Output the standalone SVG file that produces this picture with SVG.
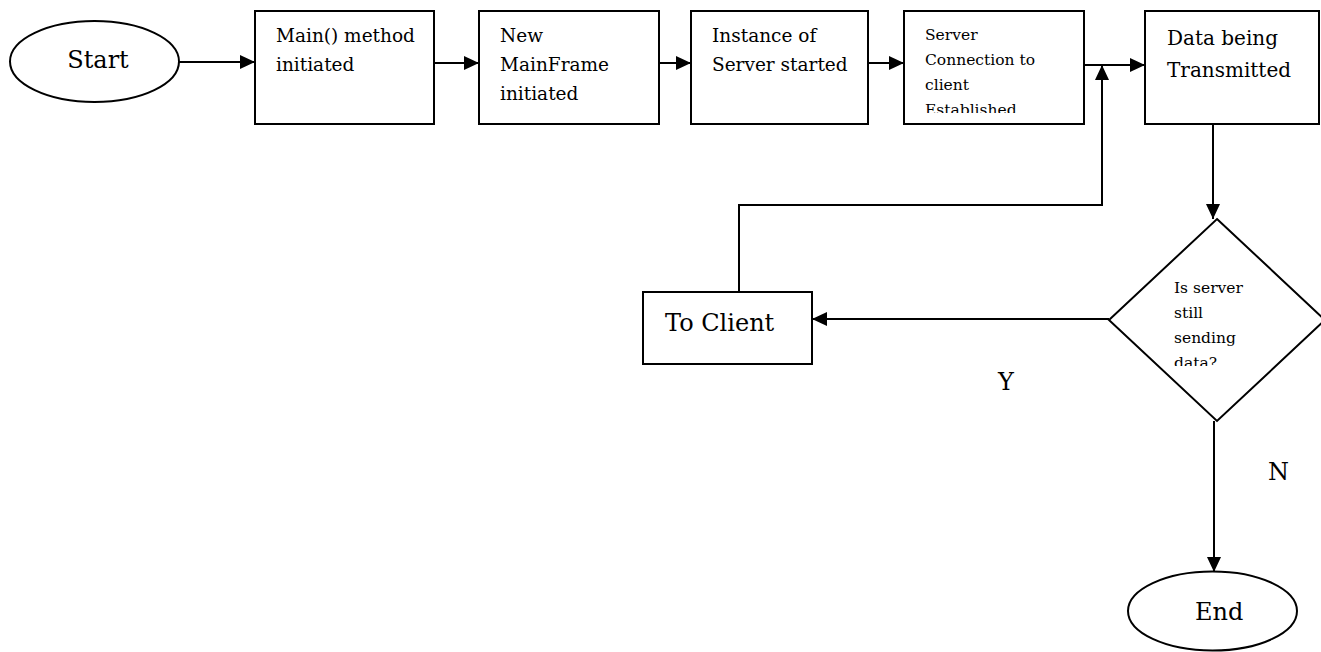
<svg xmlns="http://www.w3.org/2000/svg" width="1321" height="652" viewBox="0 0 1321 652">
  <style>
    .shape { fill: #ffffff; stroke: #000000; stroke-width: 2; }
    .edge { fill: none; stroke: #000000; stroke-width: 2; }
    .label { font-family: "DejaVu Serif", "Liberation Serif", serif; fill: #000000; }
    .big { font-size: 24px; }
    .box { font-size: 18.5px; }
    .small { font-size: 15.5px; }
    .mid { font-size: 20px; }
  </style>
  <defs>
    <marker id="arrow" markerUnits="userSpaceOnUse" markerWidth="16" markerHeight="14" refX="15" refY="7" orient="auto">
      <path d="M0,0 L15,7 L0,14 Z" fill="#000000"/>
    </marker>
    <clipPath id="clip-conn">
      <rect x="905" y="12" width="178" height="101"/>
    </clipPath>
    <clipPath id="clip-decision">
      <rect x="1110" y="220" width="211" height="146"/>
    </clipPath>
  </defs>

  <rect width="1321" height="652" fill="#ffffff"/>

  <!-- connectors -->
  <g id="connectors">
    <path class="edge" d="M179,62 H255" marker-end="url(#arrow)"/>
    <path class="edge" d="M434,63 H479" marker-end="url(#arrow)"/>
    <path class="edge" d="M659,63 H691" marker-end="url(#arrow)"/>
    <path class="edge" d="M868,63 H904" marker-end="url(#arrow)"/>
    <path class="edge" d="M1084,65 H1145" marker-end="url(#arrow)"/>
    <path class="edge" d="M739,292 V205 H1102 V65" marker-end="url(#arrow)"/>
    <path class="edge" d="M1213,124 V219" marker-end="url(#arrow)"/>
    <path class="edge" d="M1109,319 H812" marker-end="url(#arrow)"/>
    <path class="edge" d="M1214,421 V572" marker-end="url(#arrow)"/>
  </g>

  <g id="start">
    <ellipse class="shape" cx="94.5" cy="61.5" rx="84.5" ry="40.5"/>
    <text class="label big" x="98" y="68" text-anchor="middle">Start</text>
  </g>

  <g id="main-method">
    <rect class="shape" x="255" y="11" width="179" height="113"/>
    <text class="label box" x="276" y="42">Main() method</text>
    <text class="label box" x="276" y="71">initiated</text>
  </g>

  <g id="new-mainframe">
    <rect class="shape" x="479" y="11" width="180" height="113"/>
    <text class="label box" x="500" y="42">New</text>
    <text class="label box" x="500" y="71">MainFrame</text>
    <text class="label box" x="500" y="100">initiated</text>
  </g>

  <g id="server-instance">
    <rect class="shape" x="691" y="11" width="177" height="113"/>
    <text class="label box" x="712" y="42">Instance of</text>
    <text class="label box" x="712" y="71">Server started</text>
  </g>

  <g id="connection">
    <rect class="shape" x="904" y="11" width="180" height="113"/>
    <g clip-path="url(#clip-conn)">
      <text class="label small" x="925" y="40">Server</text>
      <text class="label small" x="925" y="65">Connection to</text>
      <text class="label small" x="925" y="90">client</text>
      <text class="label small" x="925" y="115">Established</text>
    </g>
  </g>

  <g id="transmit">
    <rect class="shape" x="1145" y="11" width="174" height="113"/>
    <text class="label mid" x="1167" y="45">Data being</text>
    <text class="label mid" x="1167" y="77">Transmitted</text>
  </g>

  <g id="decision">
    <polygon class="shape" points="1217,219 1325,320 1217,421 1109,320"/>
    <g clip-path="url(#clip-decision)">
      <text class="label small" x="1174" y="293">Is server</text>
      <text class="label small" x="1174" y="318">still</text>
      <text class="label small" x="1174" y="343">sending</text>
      <text class="label small" x="1174" y="368">data?</text>
    </g>
  </g>

  <g id="to-client">
    <rect class="shape" x="643" y="292" width="169" height="72"/>
    <text class="label big" x="665" y="331">To Client</text>
  </g>

  <g id="end">
    <ellipse class="shape" cx="1212.5" cy="611" rx="84.5" ry="39.5"/>
    <text class="label big" x="1195" y="620">End</text>
  </g>

  <g id="branch-labels">
    <text class="label big" x="998" y="390">Y</text>
    <text class="label big" x="1268" y="480">N</text>
  </g>
</svg>
